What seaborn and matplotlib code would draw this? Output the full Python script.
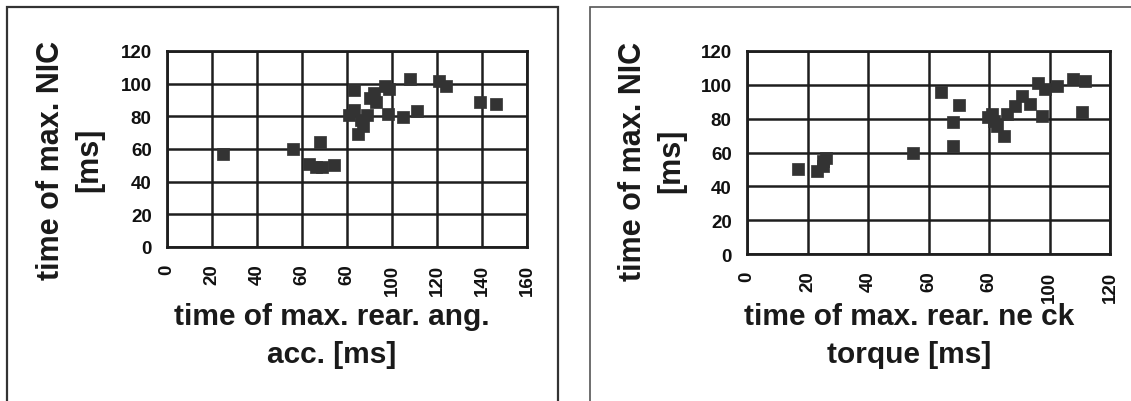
import matplotlib
matplotlib.use("Agg")
import matplotlib.pyplot as plt
import seaborn as sns
import pandas as pd
from matplotlib.patches import Rectangle

sns.set_theme(style="white")
plt.rcParams['font.family'] = ['Liberation Sans', 'DejaVu Sans']
plt.rcParams['font.weight'] = 'bold'

# Left panel: time of max. rear. angular acceleration vs time of max. NIC
acc_x = [25, 56, 68, 63, 66, 69, 74, 83, 81, 83, 86, 85, 87, 89, 90, 92, 93,
         97, 98.5, 98, 105, 111, 108, 121, 124, 139, 146]
acc_y = [57, 60, 64, 51, 49, 49, 50, 96, 81, 84, 78, 69, 74, 81, 91, 94.5, 88.5,
         98.6, 96.6, 81.4, 79.3, 83.4, 102.7, 101.7, 98.6, 88.5, 87.5]

# Right panel: time of max. rear. neck torque vs time of max. NIC
torq_x = [17, 23, 25, 25, 26, 55, 64, 70, 68, 68, 81, 81.5, 82.6, 84.8, 79.8, 86,
          88.6, 90.8, 93.6, 97.4, 96.3, 98.5, 102.4, 107.9, 111.7, 110.6]
torq_y = [50, 49, 52, 55, 57, 60, 96, 88, 78, 64, 82.6, 78.7, 75.7, 69.8, 80.7, 82.6,
          87.5, 93.4, 88.5, 81.6, 101.3, 97.4, 99.3, 103.7, 102.3, 84]

y_ticks = [0, 20, 40, 60, 80, 100, 120]
y_ticklabels = ["0", "20", "40", "60", "80", "100", "120"]
acc_ticks = [0, 20, 40, 60, 80, 100, 120, 140, 160]
acc_ticklabels = ["0", "20", "40", "60", "60", "100", "120", "140", "160"]
torq_ticks = [0, 20, 40, 60, 80, 100, 120]
torq_ticklabels = ["0", "20", "40", "60", "60", "100", "120"]

y_label = "time of max. NIC\n[ms]"
acc_label = "time of max. rear. ang.\nacc. [ms]"
torq_label = "time of max. rear. ne ck\ntorque [ms]"

W, H = 1131, 402
fig = plt.figure(figsize=(W / 100, H / 100), dpi=100)
fig.patch.set_facecolor("white")

def ax_rect(l, t, r, b):
    return [l / W, 1 - b / H, (r - l) / W, (b - t) / H]

mcolor = "#333333"
gcolor = "#1e1e1e"

def setup(ax, x, y, xticks, xlabels, xmax):
    df = pd.DataFrame({"x": x, "y": y})
    sns.scatterplot(data=df, x="x", y="y", ax=ax, marker="s", s=70,
                    color=mcolor, edgecolor=mcolor, linewidth=0.5, zorder=3,
                    clip_on=False)
    ax.set_xlim(0, xmax)
    ax.set_ylim(0, 120)
    ax.set_xticks(xticks)
    ax.set_xticklabels(xlabels, rotation=90, fontsize=13.5, fontweight="bold",
                       color="#111111")
    ax.set_yticks(y_ticks)
    ax.set_yticklabels(y_ticklabels, fontsize=13.5, fontweight="bold",
                       color="#111111")
    ax.tick_params(axis="x", length=0, pad=12)
    ax.tick_params(axis="y", length=0, pad=11)
    ax.grid(True, color=gcolor, linewidth=1.8)
    ax.set_axisbelow(True)
    for s in ax.spines.values():
        s.set_color(gcolor)
        s.set_linewidth(2.0)
    ax.set_xlabel("")
    ax.set_ylabel("")
    ax.set_facecolor("white")

ax1 = fig.add_axes(ax_rect(167, 52, 527, 248))
setup(ax1, acc_x, acc_y, acc_ticks, acc_ticklabels, 160)

ax2 = fig.add_axes(ax_rect(747, 52, 1110, 255))
setup(ax2, torq_x, torq_y, torq_ticks, torq_ticklabels, 120)

# outer frames
fig.patches.append(Rectangle((7 / W, -0.05), (558 - 7) / W, 1.05 - 8 / H,
                             transform=fig.transFigure, fill=False,
                             edgecolor="#333333", linewidth=1.6))
fig.patches.append(Rectangle((590 / W, -0.05), (1140 - 590) / W, 1.05 - 8 / H,
                             transform=fig.transFigure, fill=False,
                             edgecolor="#555555", linewidth=1.2))

tcolor = "#1a1a1a"
fs = 22
fig.text(70 / W, 1 - 160 / H, y_label, rotation=90, ha="center", va="center",
         fontsize=fs, fontweight="bold", color=tcolor, linespacing=1.35,
         multialignment="center")
fig.text(652 / W, 1 - 161 / H, y_label, rotation=90, ha="center", va="center",
         fontsize=fs, fontweight="bold", color=tcolor, linespacing=1.35,
         multialignment="center")
fig.text(332 / W, 1 - 336 / H, acc_label, ha="center", va="center",
         fontsize=21.5, fontweight="bold", color=tcolor, linespacing=1.45,
         multialignment="center")
fig.text(909 / W, 1 - 336 / H, torq_label, ha="center", va="center",
         fontsize=21.5, fontweight="bold", color=tcolor, linespacing=1.45,
         multialignment="center")

fig.savefig("out.png", dpi=100, facecolor="white")
